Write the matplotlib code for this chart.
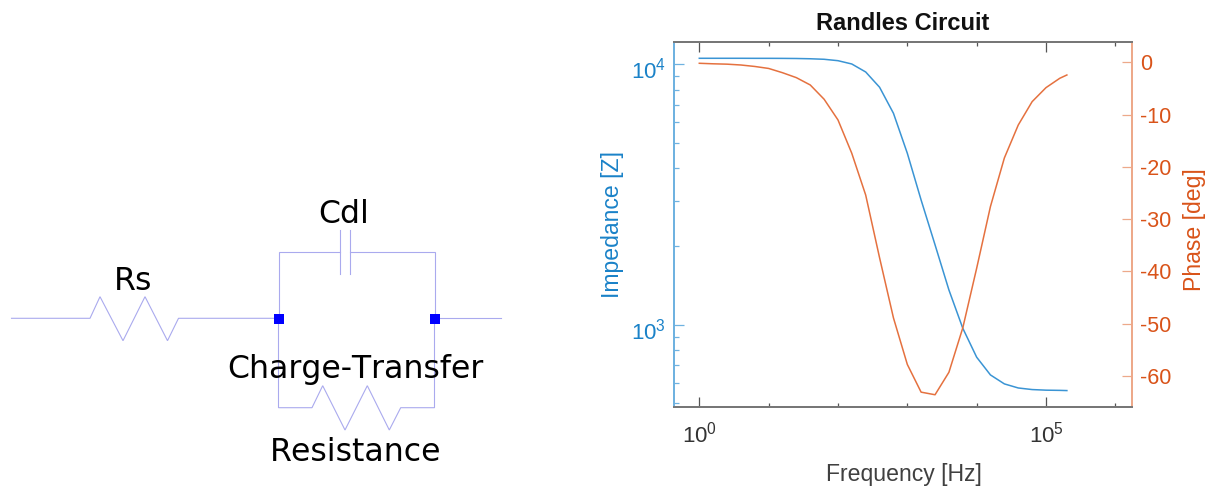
import matplotlib
matplotlib.use("Agg")
import matplotlib.pyplot as plt
from matplotlib.ticker import LogLocator, FixedLocator, NullFormatter, LogFormatterMathtext
from matplotlib.transforms import ScaledTranslation

# Bode data
freq = [1, 1.58, 2.51, 3.98, 6.31, 10, 15.8, 25.1, 39.8, 63.1, 100, 158, 251, 398,
        631, 1000, 1580, 2510, 3980, 6310, 10000, 15800, 25100, 39800, 63100,
        100000, 158000, 200000]
impedance = [10544, 10544, 10544, 10544, 10540, 10540, 10535, 10525, 10500, 10452, 10323,
             10027, 9343, 8164, 6486, 4556, 3016, 2030, 1362, 971, 752, 643, 594, 573,
             565, 562, 561, 560]
phase = [-0.19, -0.29, -0.36, -0.52, -0.8, -1.18, -1.99, -2.94, -4.34, -7.07, -11.03,
         -17.4, -25.4, -37.4, -48.9, -57.8, -63.1, -63.6, -59.3, -50.8, -39.4, -27.6,
         -18.3, -12.0, -7.53, -4.85, -3.06, -2.43]
phase_ticks = [0, -10, -20, -30, -40, -50, -60]

# schematic, in picture pixels
wire_left = [(11.5, 318.3), (90, 318.3), (100, 296.7), (123, 340.7), (145, 296.7),
             (167.5, 340.7), (178.5, 318.3), (278.5, 318.3)]
wire_right = [(434.5, 318.3), (500.5, 318.3)]
loop_top = [(278.5, 318.3), (278.5, 252.3), (339.7, 252.3)]
loop_top2 = [(350.3, 252.3), (434.5, 252.3), (434.5, 318.3)]
loop_bottom = [(278.5, 318.3), (278.5, 407.7), (312, 407.7), (322.7, 385.7), (345, 430),
               (367.3, 385.7), (389.3, 430), (400.7, 407.7), (434.5, 407.7), (434.5, 318.3)]
plates = [[(339.7, 230), (339.7, 274.3)], [(350.3, 230), (350.3, 274.3)]]
nodes = [(278.5, 318.5), (434.5, 318.5)]
labels = [("Rs", 133, 289.5), ("Cdl", 343.5, 222.7),
          ("Charge-Transfer", 355.5, 377.7), ("Resistance", 355.5, 460.7)]

W, H = 1215, 490
BLUE = "#1a82c8"
ORANGE = "#d95319"

plt.rcParams["font.family"] = ["Liberation Sans"]
plt.rcParams["axes.unicode_minus"] = False
plt.rcParams["text.kerning_factor"] = 6

fig = plt.figure(figsize=(W / 100, H / 100), dpi=100)

# left part: circuit drawn on a full figure axes in pixel units
bg = fig.add_axes([0, 0, 1, 1])
bg.set_xlim(0, W)
bg.set_ylim(H, 0)
bg.axis("off")
for path in [wire_left, wire_right, loop_top, loop_top2, loop_bottom] + plates:
    bg.plot([p[0] for p in path], [p[1] for p in path], color="#aaaaee", lw=0.8,
            solid_joinstyle="miter")
bg.scatter([n[0] for n in nodes], [n[1] for n in nodes], marker="s", s=58, color="#0000ff",
           linewidths=0, zorder=3)
for txt, x, y in labels:
    bg.text(x, y, txt, family="DejaVu Sans", fontsize=22.7, ha="center", va="baseline",
            color="black")

# right part: Bode plot
left, right, top, bottom = 674, 1131.7, 42, 407.3
ax = fig.add_axes([left / W, 1 - bottom / H, (right - left) / W, (bottom - top) / H])
ax.patch.set_alpha(0)
ax2 = ax.twinx()
ax2.patch.set_alpha(0)

ax.loglog(freq, impedance, color="#3a94d4", lw=1.1)
ax2.plot(freq, phase, color="#e5713f", lw=1.1)

ax.set_xscale("log")
ax.set_xlim(10 ** -0.365, 10 ** 6.236)
ax.set_ylim(10 ** 2.684, 10 ** 4.0855)
ax2.set_ylim(-66, 3.88)

ax.xaxis.set_major_locator(FixedLocator([1, 1e5]))
ax.xaxis.set_minor_locator(FixedLocator([10, 100, 1000, 10000, 1e6]))
ax.xaxis.set_major_formatter(LogFormatterMathtext())
ax.xaxis.set_minor_formatter(NullFormatter())
ax.yaxis.set_major_locator(FixedLocator([1e3, 1e4]))
ax.yaxis.set_minor_locator(LogLocator(base=10, subs=range(2, 10), numticks=10))
ax.yaxis.set_major_formatter(LogFormatterMathtext())
ax.yaxis.set_minor_formatter(NullFormatter())
ax2.set_yticks(phase_ticks)
ax2.set_yticklabels([str(v) for v in phase_ticks])

ax.tick_params(axis="x", which="major", direction="in", top=True, length=7, width=0.9,
               color="#555555", labelcolor="#333333", labelsize=16, pad=10)
ax.tick_params(axis="x", which="minor", direction="in", top=True, length=3.2, width=0.9,
               color="#555555")
ax.tick_params(axis="y", which="major", direction="in", length=7, width=0.9, color="#6fb2e0",
               labelcolor=BLUE, labelsize=16, pad=6)
ax.tick_params(axis="y", which="minor", direction="in", length=3.6, width=0.9, color="#6fb2e0")
ax2.tick_params(axis="y", which="major", direction="in", length=7, width=0.9, color="#eda98a",
                labelcolor=ORANGE, labelsize=15.5, pad=6)
ax2.tick_params(axis="y", which="minor", right=False)

# the 10^n labels sit a bit under their ticks in the original
nudge = ScaledTranslation(0, -3 / 72, fig.dpi_scale_trans)
for lbl in ax.get_yticklabels():
    lbl.set_transform(lbl.get_transform() + nudge)

for a in (ax, ax2):
    a.spines["top"].set_color("#777777")
    a.spines["bottom"].set_color("#777777")
    a.spines["top"].set_linewidth(1.4)
    a.spines["bottom"].set_linewidth(1.4)
    a.spines["left"].set_color("#6fb2e0")
    a.spines["right"].set_color("#eda98a")
    a.spines["left"].set_linewidth(1.4)
    a.spines["right"].set_linewidth(1.4)

ax.set_xlabel("Frequency [Hz]", fontsize=16.6, color="#404040")
ax.xaxis.set_label_coords((903.5 - left) / (right - left), -(481 - bottom) / (bottom - top))
ax.xaxis.label.set_va("baseline")
ax.set_ylabel("Impedance [Z]", fontsize=16.6, color=BLUE)
ax.yaxis.set_label_coords((613 - left) / (right - left), (bottom - 225) / (bottom - top))
ax.yaxis.label.set_va("center")
ax2.set_ylabel("Phase [deg]", fontsize=16.6, color=ORANGE)
ax2.yaxis.set_label_coords((1195 - left) / (right - left), (bottom - 230) / (bottom - top))
ax2.yaxis.label.set_va("center")

fig.text(903 / W, 1 - 30 / H, "Randles Circuit", fontsize=17, fontweight="bold",
         ha="center", va="baseline", color="#111111")

fig.savefig("out.png", dpi=100)
